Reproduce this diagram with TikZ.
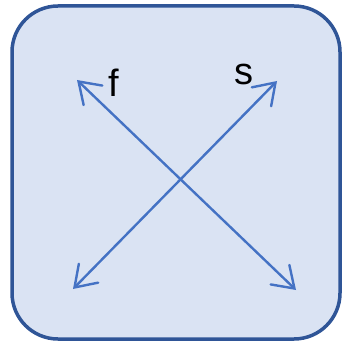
\documentclass[tikz,border=0pt]{standalone}
\usepackage{fontspec}
\setmainfont{Liberation Sans}
\usetikzlibrary{arrows.meta}
\definecolor{boxfill}{HTML}{DAE3F3}
\definecolor{boxline}{HTML}{2F5597}
\definecolor{arrowblue}{HTML}{4472C4}
\tikzset{
  panel/.style={draw=boxline, line width=3.5pt, fill=boxfill, rounded corners=46pt},
  dblarrow/.style={draw=arrowblue, line width=2.4pt,
    {Straight Barb[length=20pt,width=27pt,line cap=round]}-{Straight Barb[length=20pt,width=27pt,line cap=round]}},
  lbl/.style={font=\fontsize{38}{40}\selectfont, inner sep=0pt}
}
\begin{document}
\begin{tikzpicture}[x=1pt,y=-1pt]
\useasboundingbox (0,0) rectangle (343,352);
\draw[panel] (12,6) rectangle (340,339);
\coordinate (fa) at (77,80);
\coordinate (fb) at (296,290);
\coordinate (sa) at (277,81);
\coordinate (sb) at (73,289);
\draw[dblarrow] (fa) -- (fb);
\draw[dblarrow] (sb) -- (sa);
\node[lbl] (f) at (114,83) {f};
\node[lbl] (s) at (244,74) {s};
\end{tikzpicture}
\end{document}
